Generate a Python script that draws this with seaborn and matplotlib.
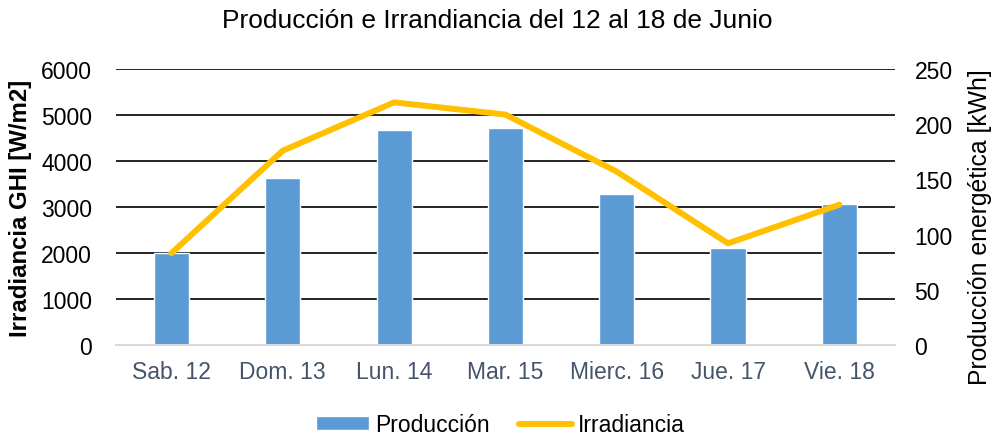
import pandas as pd
import numpy as np
import matplotlib
matplotlib.use("Agg")
import matplotlib.pyplot as plt
import matplotlib.transforms as mtransforms
import seaborn as sns
from matplotlib.patches import Patch
from matplotlib.lines import Line2D

# datos
dias = ["Sab. 12", "Dom. 13", "Lun. 14", "Mar. 15", "Mierc. 16", "Jue. 17", "Vie. 18"]
produccion_kwh = [83.8, 151.3, 195.0, 196.3, 136.7, 88.1, 127.5]
irradiancia_wm2 = [1995, 4225, 5275, 5010, 3770, 2210, 3050]
ticks_irr = [0, 1000, 2000, 3000, 4000, 5000, 6000]
ticks_prod = [0, 50, 100, 150, 200, 250]

sns.set_style("white")
plt.rcParams['font.family'] = ['Liberation Sans', 'DejaVu Sans']
plt.rcParams['text.color'] = 'black'
plt.rcParams['axes.labelcolor'] = 'black'

df = pd.DataFrame({"dia": dias, "prod": produccion_kwh, "irr": irradiancia_wm2})

fig = plt.figure(figsize=(9.95, 4.39), dpi=100)
# eje de barras detras, eje de la linea delante
ax_b = fig.add_axes([0.1163, 0.2118, 0.7832, 0.6287])
ax_l = ax_b.twinx()

sns.barplot(data=df, x="dia", y="prod", ax=ax_b, color="#5B9BD5", saturation=1,
            width=0.315, zorder=2)
sns.lineplot(data=df, x="dia", y="irr", ax=ax_l, color="#FFC000", linewidth=4.3,
             sort=False, solid_capstyle="round", solid_joinstyle="round")

ax_b.set_xlim(-0.5, len(dias) - 0.5)
ax_b.set_ylim(0, 250)
ax_l.set_ylim(0, 6000)
ax_b.set_yticks(ticks_prod)
ax_l.set_yticks(ticks_irr)

# lineas de grilla segun la escala de irradiancia, dibujadas detras de las barras
trans = mtransforms.blended_transform_factory(ax_b.transAxes, ax_l.transData)
ax_b.hlines(ticks_irr[1:], 0, 1, transform=trans, color="black", linewidth=1.2, zorder=0.5)
ax_b.grid(False)
ax_l.grid(False)

# lados de los ejes intercambiados
ax_b.yaxis.tick_right()
ax_b.yaxis.set_label_position("right")
ax_l.yaxis.tick_left()
ax_l.yaxis.set_label_position("left")

for a in (ax_b, ax_l):
    for s in a.spines.values():
        s.set_visible(False)
    a.tick_params(length=0)
ax_b.spines["bottom"].set_visible(True)
ax_b.spines["bottom"].set_color("#d9d9d9")
ax_b.spines["bottom"].set_linewidth(1.5)

fs = 16.5
ax_l.tick_params(axis="y", labelsize=fs, colors="black", pad=17)
ax_b.tick_params(axis="y", labelsize=fs, colors="black", pad=14)
ax_b.tick_params(axis="x", labelsize=fs, colors="#44546A", pad=11)
ax_l.tick_params(axis="x", labelbottom=False)

ax_b.set_xlabel("")
ax_l.set_xlabel("")
ax_l.set_ylabel("Irradiancia GHI [W/m2]", fontsize=17.3, fontweight="bold")
ax_l.yaxis.set_label_coords(-0.108, 0.5)
ax_b.set_ylabel("Producción energética [kWh]", fontsize=17.8)
ax_b.yaxis.set_label_coords(1.094, 0.43)

fig.text(0.5, 0.952, "Producción e Irrandiancia del 12 al 18 de Junio", fontsize=19,
         ha="center", va="center")

handles = [Patch(facecolor="#5B9BD5", label="Producción"),
           Line2D([0], [0], color="#FFC000", linewidth=4.3, solid_capstyle="round",
                  label="Irradiancia")]
fig.legend(handles=handles, loc="center", bbox_to_anchor=(0.503, 0.03), ncol=2,
           frameon=False, fontsize=fs, handlelength=2.3, handleheight=0.55,
           handletextpad=0.25, columnspacing=1.3)

fig.savefig("out.png", dpi=100)
